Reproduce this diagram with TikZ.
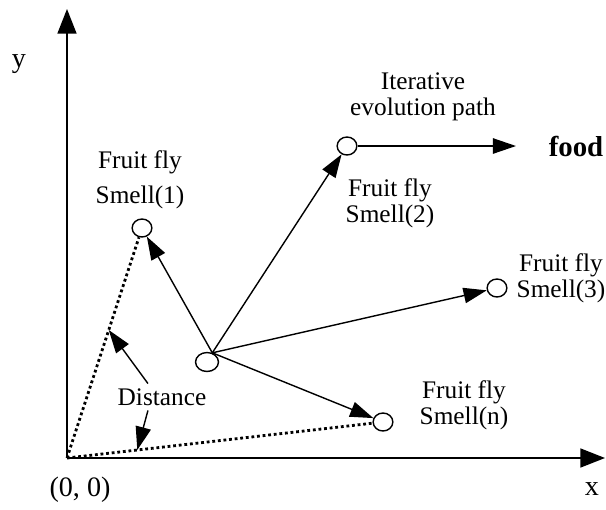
\documentclass[tikz,border=0pt]{standalone}
\usepackage{fontspec}
\setmainfont{Liberation Serif}
\usetikzlibrary{arrows.meta,shapes.geometric}

\begin{document}
\begin{tikzpicture}[x=0.025cm,y=-0.025cm,
  font=\fontsize{18}{18.5}\selectfont,
  fly/.style={draw,ellipse,line width=1pt,inner sep=0pt,minimum width=14pt,minimum height=12.8pt},
  arr/.style={-{Triangle[length=16.5pt,width=11pt]},line width=1pt},
  axis/.style={-{Triangle[length=17.5pt,width=13.5pt]},line width=1.1pt},
  dotline/.style={line width=2pt,dash pattern=on 2pt off 2pt},
  lbl/.style={align=center,inner sep=0pt}]

\useasboundingbox (0,0) rectangle (606,509);

% Axes
\coordinate (o) at (67,458);
\coordinate (ytop) at (67,9);
\coordinate (xend) at (605,458);
\draw[axis] (o) -- (ytop);
\draw[axis] (o) -- (xend);
\node[font=\fontsize{20}{22}\selectfont] (ylbl) at (19,64) {y};
\node[font=\fontsize{20}{22}\selectfont] (xlbl) at (592,489) {x};
\node[font=\fontsize{20}{22}\selectfont] (olbl) at (80,490) {(0, 0)};

% Fruit flies
\node[fly,minimum width=16.3pt,minimum height=13.5pt] (hub) at (207,362) {};
\node[fly] (s1) at (142,228) {};
\node[fly] (s2) at (347,146) {};
\node[fly] (s3) at (497,288) {};
\node[fly] (sn) at (383,422) {};

% Labels
\node[lbl] (l1) at (140,180) {Fruit fly\\[6.5pt]Smell(1)};
\node[lbl] (l2) at (390,203) {Fruit fly\\Smell(2)};
\node[lbl] (l3) at (561,278) {Fruit fly\\Smell(3)};
\node[lbl] (ln) at (464,405) {Fruit fly\\Smell(n)};
\node[lbl] (path) at (423,97) {Iterative\\evolution path};
\node[font=\fontsize{20.5}{22}\selectfont\bfseries] (food) at (576,146) {food};
\node (dist) at (162,397) {Distance};

% Search directions
\draw[arr] (hub.60) -- (s1);
\draw[arr] (hub.60) -- (s2);
\draw[arr] (hub.60) -- (s3);
\draw[arr] (hub.60) -- (sn);
\draw[arr] (s2.east) -- (food.west -| 516,0);

% Distances
\draw[dotline] (o) -- (s1) coordinate[pos=0.58] (d1);
\draw[dotline] (o) -- (sn) coordinate[pos=0.23] (d2);
\draw[arr] ([xshift=-10pt]dist.north) -- (d1);
\draw[arr] ([xshift=-10pt]dist.south) -- (d2);

\end{tikzpicture}
\end{document}
